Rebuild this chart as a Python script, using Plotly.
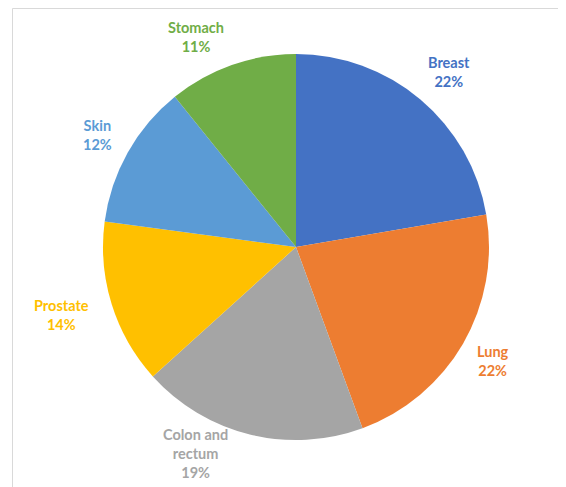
import math
import plotly.graph_objects as go

labels = ["Breast", "Lung", "Colon and rectum", "Prostate", "Skin", "Stomach"]
label_text = ["Breast", "Lung", "Colon and<br>rectum", "Prostate", "Skin", "Stomach"]
values = [22.3, 22.1, 18.9, 13.8, 12.1, 10.8]
colors = ["#4472C4", "#ED7D31", "#A5A5A5", "#FFC000", "#5B9BD5", "#70AD47"]

# page body has an 8px margin, so the figure is drawn offset by 8px
OFF = 8
W, H = 566 - OFF, 487 - OFF
cx, cy, R = 296 - OFF, 247 - OFF, 193
angle_nudge = [1, 0, 12, 1, 0, -6]      # degrees, label placement tweak
radius_nudge = [232, 228, 230, 244, 228, 232]  # px from centre

fig = go.Figure(go.Pie(
    labels=labels,
    values=values,
    marker=dict(colors=colors, line=dict(width=0)),
    sort=False,
    direction="clockwise",
    rotation=0,
    textinfo="none",
    hoverinfo="label+percent",
    showlegend=False,
    domain=dict(x=[(cx - R) / W, (cx + R) / W], y=[(H - cy - R) / H, (H - cy + R) / H]),
))

total = sum(values)
cum = 0
for i, v in enumerate(values):
    mid = (cum + v / 2) / total * 360 + angle_nudge[i]
    cum += v
    t = math.radians(mid)
    r = radius_nudge[i]
    px = cx + r * math.sin(t)
    py = cy - r * math.cos(t)
    pct = round(v / total * 100)
    fig.add_annotation(
        x=px / W, y=(H - py) / H, xref="paper", yref="paper",
        text=f"<b>{label_text[i]}<br>{pct}%</b>",
        showarrow=False, xanchor="center", yanchor="middle",
        font=dict(family="Lato, Open Sans, sans-serif", size=14.5, color=colors[i]),
        align="center",
    )

fig.add_shape(type="rect", xref="paper", yref="paper",
              x0=(12.5 - OFF) / W, x1=1.05, y0=-0.05, y1=1 - 0.5 / H,
              line=dict(color="#D9D9D9", width=1), fillcolor="rgba(0,0,0,0)")

fig.update_layout(
    width=W, height=H,
    margin=dict(l=0, r=0, t=0, b=0),
    paper_bgcolor="white", plot_bgcolor="white",
)

fig.write_html("out.html")
